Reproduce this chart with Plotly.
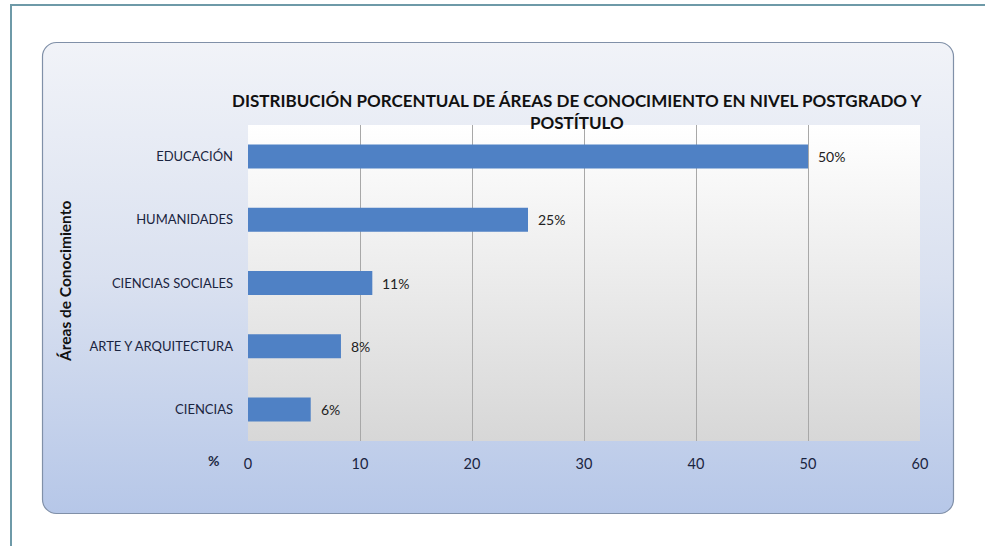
import base64
import plotly.graph_objects as go

# data: 36 programmes -> 18, 9, 4, 3, 2
areas = ["CIENCIAS", "ARTE Y ARQUITECTURA", "CIENCIAS SOCIALES", "HUMANIDADES", "EDUCACIÓN"]
porcentajes = [5.6, 8.3, 11.1, 25.0, 50.0]
x_ticks = [0, 10, 20, 30, 40, 50, 60]

W, H = 985, 546
L, R, T, B = 248, 920, 125, 441  # plot area in pixels


def px(x):
    return (x - L) / (R - L)


def py(y):
    return (B - y) / (B - T)


# background drawn as an svg: outer frame, rounded panel, plot-area gradient
svg = f"""<svg xmlns="http://www.w3.org/2000/svg" width="{W}" height="{H}" viewBox="0 0 {W} {H}">
<defs>
<linearGradient id="panel" x1="0" y1="0" x2="0" y2="1">
<stop offset="0" stop-color="#f1f3f8"/>
<stop offset="0.5" stop-color="#dae1f0"/>
<stop offset="1" stop-color="#b6c7e8"/>
</linearGradient>
<linearGradient id="plot" x1="0" y1="0" x2="0" y2="1">
<stop offset="0" stop-color="#ffffff"/>
<stop offset="1" stop-color="#d7d7d7"/>
</linearGradient>
</defs>
<rect x="11" y="5" width="990" height="560" fill="#ffffff" stroke="#6e9aa8" stroke-width="2"/>
<rect x="42.5" y="42.5" width="911" height="471" rx="14" ry="14" fill="url(#panel)" stroke="#8090a8" stroke-width="1.2"/>
<rect x="{L}" y="{T}" width="{R - L}" height="{B - T}" fill="url(#plot)"/>
</svg>"""
svg_uri = "data:image/svg+xml;base64," + base64.b64encode(svg.encode("utf-8")).decode()

fig = go.Figure()
fig.add_trace(go.Bar(
    y=areas, x=porcentajes, orientation="h",
    marker=dict(color="#4f81c5", line=dict(width=0)),
    hoverinfo="skip",
))

for a, v in zip(areas, porcentajes):
    fig.add_annotation(x=v, y=a, text=f"{v:.0f}%", showarrow=False,
                       xanchor="left", yanchor="middle", xshift=8,
                       font=dict(family="Lato", size=14, color="#222222"))

fig.add_layout_image(dict(
    source=svg_uri, xref="paper", yref="paper",
    x=px(0), y=py(0), sizex=W / (R - L), sizey=H / (B - T),
    xanchor="left", yanchor="top", sizing="stretch", layer="below",
))

fig.add_annotation(x=px(65), y=py(282), xref="paper", yref="paper",
                   xanchor="center", yanchor="middle",
                   text="<b>Áreas de Conocimiento</b>", textangle=-90, showarrow=False,
                   font=dict(family="Lato", size=15.5, color="#111111"))
fig.add_annotation(x=px(213), y=py(461), xref="paper", yref="paper",
                   xanchor="center", yanchor="middle",
                   text="<b>%</b>", showarrow=False,
                   font=dict(family="Lato", size=14, color="#1f2a44"))
fig.add_annotation(x=px(577), y=py(111), xref="paper", yref="paper",
                   xanchor="center", yanchor="middle",
                   text="<b>DISTRIBUCIÓN PORCENTUAL DE ÁREAS DE CONOCIMIENTO EN NIVEL POSTGRADO Y<br>POSTÍTULO</b>",
                   showarrow=False, align="center",
                   font=dict(family="Lato", size=17, color="#111111"))

fig.update_xaxes(range=[0, 60], tickvals=x_ticks, showgrid=True, gridcolor="#a8a8a8",
                 gridwidth=1, zeroline=False, showline=False, ticks="",
                 ticklabelstandoff=12,
                 tickfont=dict(family="Lato", size=14.5, color="#1a2440"), fixedrange=True)
fig.update_yaxes(showgrid=False, zeroline=False, showline=False, ticks="",
                 ticklabelstandoff=14,
                 tickfont=dict(family="Lato", size=13, color="#1a2440"), fixedrange=True)

fig.update_layout(
    width=W, height=H,
    margin=dict(l=L, r=W - R, t=T, b=H - B),
    paper_bgcolor="#ffffff", plot_bgcolor="rgba(0,0,0,0)",
    bargap=0.62, showlegend=False,
)

fig.write_html("out.html", config={"displayModeBar": False},
               post_script="document.body.style.margin='0';")
